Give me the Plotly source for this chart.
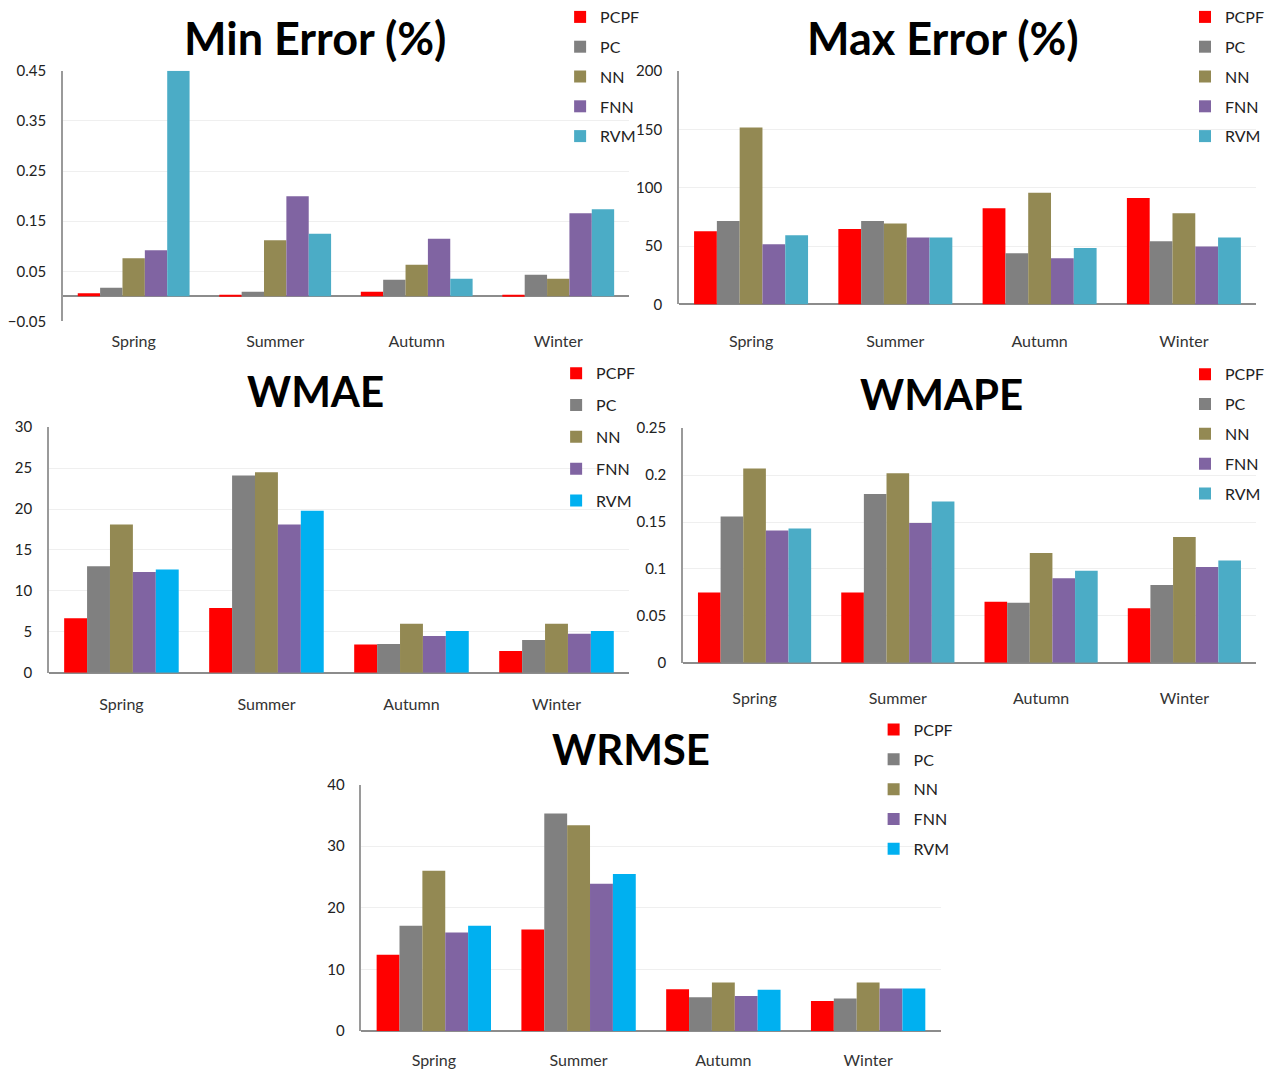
import plotly.graph_objects as go

# Seasons on the category axis and the five forecasting methods
seasons = ["Spring", "Summer", "Autumn", "Winter"]
methods = ["PCPF", "PC", "NN", "FNN", "RVM"]

# Min Error (%)
min_pcpf = [0.006, 0.003, 0.009, 0.003]
min_pc = [0.017, 0.009, 0.033, 0.043]
min_nn = [0.076, 0.112, 0.063, 0.035]
min_fnn = [0.092, 0.200, 0.115, 0.166]
min_rvm = [0.450, 0.125, 0.035, 0.174]

# Max Error (%)
max_pcpf = [62.7, 64.7, 82.3, 91.2]
max_pc = [71.5, 71.5, 43.9, 54.1]
max_nn = [151.6, 69.2, 95.7, 78.1]
max_fnn = [51.6, 57.3, 39.6, 49.6]
max_rvm = [59.3, 57.3, 48.4, 57.3]

# WMAE
wmae_pcpf = [6.65, 7.9, 3.45, 2.65]
wmae_pc = [13.0, 24.1, 3.5, 4.0]
wmae_nn = [18.1, 24.5, 6.0, 6.0]
wmae_fnn = [12.3, 18.1, 4.5, 4.75]
wmae_rvm = [12.6, 19.8, 5.1, 5.1]

# WMAPE
wmape_pcpf = [0.075, 0.075, 0.065, 0.058]
wmape_pc = [0.156, 0.180, 0.064, 0.083]
wmape_nn = [0.207, 0.202, 0.117, 0.134]
wmape_fnn = [0.141, 0.149, 0.090, 0.102]
wmape_rvm = [0.143, 0.172, 0.098, 0.109]

# WRMSE
wrmse_pcpf = [12.4, 16.5, 6.8, 4.9]
wrmse_pc = [17.1, 35.3, 5.5, 5.3]
wrmse_nn = [26.0, 33.4, 7.9, 7.9]
wrmse_fnn = [16.0, 23.9, 5.7, 6.9]
wrmse_rvm = [17.1, 25.5, 6.7, 6.9]

W, H = 1269, 1071
FONT = "Lato"

teal = "#4BACC6"
cyan = "#00B0F0"
base_colors = ["#FF0000", "#808080", "#938953", "#8064A2"]

# panel: title, series, rvm colour, x pixel span, y pixel span, y range, tick0, dtick,
#        title centre (px), title size, legend left/top (px), legend gap, x label standoff
panels = [
    dict(title="Min Error (%)",
         series=[min_pcpf, min_pc, min_nn, min_fnn, min_rvm], rvm=teal,
         xpx=(63, 630), ypx=(69, 320), yr=(-0.05, 0.45), t0=-0.05, dt=0.1,
         tpos=(315, 36), tsize=45, leg=(561, -2), gap=6, stand=9),
    dict(title="Max Error (%)",
         series=[max_pcpf, max_pc, max_nn, max_fnn, max_rvm], rvm=teal,
         xpx=(680, 1258), ypx=(69, 303), yr=(0, 200), t0=0, dt=50,
         tpos=(944, 36), tsize=45, leg=(1187, -2), gap=6, stand=26),
    dict(title="WMAE",
         series=[wmae_pcpf, wmae_pc, wmae_nn, wmae_fnn, wmae_rvm], rvm=cyan,
         xpx=(49, 630), ypx=(426, 672), yr=(0, 30), t0=0, dt=5,
         tpos=(316, 390), tsize=42, leg=(557, 355), gap=8, stand=20),
    dict(title="WMAPE",
         series=[wmape_pcpf, wmape_pc, wmape_nn, wmape_fnn, wmape_rvm], rvm=teal,
         xpx=(684, 1258), ypx=(427, 662), yr=(0, 0.25), t0=0, dt=0.05,
         tpos=(943, 393), tsize=42, leg=(1187, 356), gap=6, stand=24),
    dict(title="WRMSE",
         series=[wrmse_pcpf, wrmse_pc, wrmse_nn, wrmse_fnn, wrmse_rvm], rvm=cyan,
         xpx=(362, 942), ypx=(784, 1031), yr=(0, 40), t0=0, dt=10,
         tpos=(632, 748), tsize=42, leg=(875, 712), gap=6, stand=18),
]

fig = go.Figure()
layout = dict(
    width=W, height=H, autosize=False,
    margin=dict(l=0, r=0, t=0, b=0, pad=0),
    paper_bgcolor="white", plot_bgcolor="white",
    barmode="group", bargap=0.21, bargroupgap=0,
    font=dict(family=FONT, size=15, color="#222"),
    annotations=[],
)

for i, p in enumerate(panels, start=1):
    sfx = "" if i == 1 else str(i)
    xa, ya = f"x{sfx}", f"y{sfx}"
    leg = f"legend{sfx}"
    colors = base_colors + [p["rvm"]]
    for name, vals, col in zip(methods, p["series"], colors):
        fig.add_trace(go.Bar(
            x=seasons, y=vals, name=name, marker=dict(color=col, line=dict(width=0)),
            xaxis=xa, yaxis=ya, legend=leg, legendgroup=f"{i}-{name}",
        ))
    x0, x1 = p["xpx"]
    yt, yb = p["ypx"]
    layout[f"xaxis{sfx}"] = dict(
        domain=[x0 / W, x1 / W], anchor=ya, showline=False, showgrid=False,
        ticks="", ticklabelstandoff=p["stand"], automargin=False,
        tickfont=dict(family=FONT, size=16, color="#333"),
    )
    layout[f"yaxis{sfx}"] = dict(
        domain=[1 - yb / H, 1 - yt / H], anchor=xa, range=list(p["yr"]),
        tick0=p["t0"], dtick=p["dt"], showgrid=True, gridcolor="#efefef",
        showline=True, linecolor="#9a9a9a", linewidth=1.5,
        zeroline=True, zerolinecolor="#8c8c8c", zerolinewidth=1.5,
        ticks="", ticklabelstandoff=12, automargin=False,
        tickfont=dict(family=FONT, size=15, color="#222"),
    )
    lx, ly = p["leg"]
    layout[f"legend{sfx}"] = dict(
        x=lx / W, y=1 - ly / H, xanchor="left", yanchor="top",
        bgcolor="rgba(0,0,0,0)", borderwidth=0, tracegroupgap=p["gap"],
        font=dict(family=FONT, size=16, color="#222"), itemwidth=30,
        traceorder="grouped",
    )
    tx, ty = p["tpos"]
    layout["annotations"].append(dict(
        text=f"<b>{p['title']}</b>", x=tx / W, y=1 - ty / H,
        xref="paper", yref="paper", xanchor="center", yanchor="middle",
        showarrow=False, font=dict(family=FONT, size=p["tsize"], color="black"),
    ))

fig.update_layout(**layout)
fig.write_html("out.html")
